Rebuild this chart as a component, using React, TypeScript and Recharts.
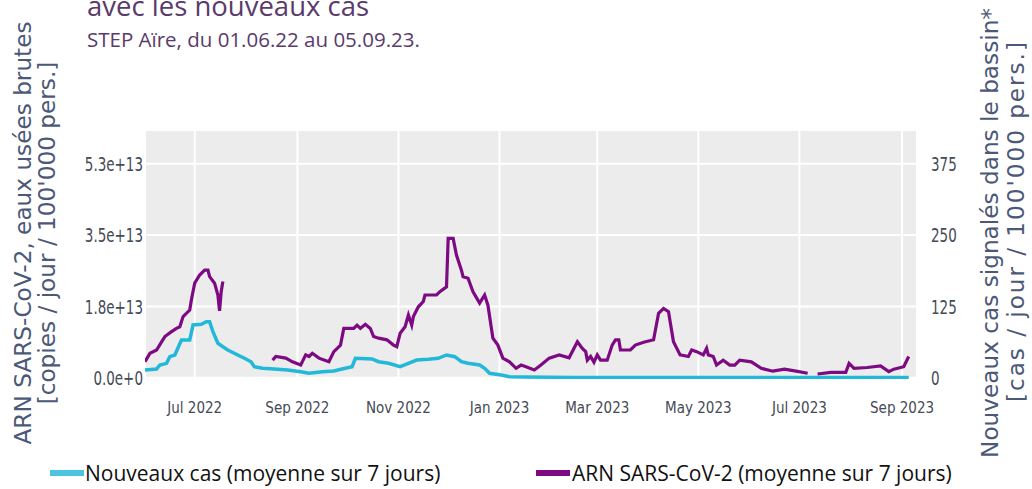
import { LineChart, Line, XAxis, YAxis, CartesianGrid } from "recharts";

const title = "avec les nouveaux cas";
const subtitle = "STEP Aïre, du 01.06.22 au 05.09.23.";
const leftTitle = ["ARN SARS-CoV-2, eaux usées brutes", "[copies / jour / 100'000 pers.]"];
const rightTitle = ["Nouveaux cas signalés dans le bassin*", "[cas / jour / 100'000 pers.]"];
const legendCas = "Nouveaux cas (moyenne sur 7 jours)";
const legendArn = "ARN SARS-CoV-2 (moyenne sur 7 jours)";

const xTickDates = [
  "2022-07-01", "2022-09-01", "2022-11-01", "2023-01-01",
  "2023-03-01", "2023-05-01", "2023-07-01", "2023-09-01",
];
const xTickLabels = [
  "Jul 2022", "Sep 2022", "Nov 2022", "Jan 2023",
  "Mar 2023", "May 2023", "Jul 2023", "Sep 2023",
];
const leftTicks = [0, 1.75e13, 3.5e13, 5.25e13];
const rightTicks = [0, 125, 250, 375];

// ARN SARS-CoV-2, copies / jour / 100'000 pers. (null = pas de mesure)
const arnDates = [
  "2022-06-01", "2022-06-04", "2022-06-08", "2022-06-11", "2022-06-13", "2022-06-17",
  "2022-06-20", "2022-06-22", "2022-06-24", "2022-06-28", "2022-06-29", "2022-07-01",
  "2022-07-04", "2022-07-07", "2022-07-09", "2022-07-10", "2022-07-13", "2022-07-15",
  "2022-07-16", "2022-07-17", "2022-07-18", "2022-07-19",
  "2022-08-17", "2022-08-19", "2022-08-25", "2022-08-29", "2022-09-03", "2022-09-06",
  "2022-09-08", "2022-09-10", "2022-09-14", "2022-09-20", "2022-09-23", "2022-09-27",
  "2022-09-29", "2022-10-05", "2022-10-07", "2022-10-09", "2022-10-12", "2022-10-15",
  "2022-10-17", "2022-10-20", "2022-10-25", "2022-10-29", "2022-10-31", "2022-11-02",
  "2022-11-05", "2022-11-07", "2022-11-09", "2022-11-10", "2022-11-13", "2022-11-16",
  "2022-11-17", "2022-11-24", "2022-11-26", "2022-11-30", "2022-12-01", "2022-12-04",
  "2022-12-06", "2022-12-09", "2022-12-10", "2022-12-13", "2022-12-16", "2022-12-20",
  "2022-12-23", "2022-12-25", "2022-12-28", "2022-12-31", "2023-01-03", "2023-01-07",
  "2023-01-11", "2023-01-14", "2023-01-17", "2023-01-22", "2023-01-26", "2023-01-31",
  "2023-02-06", "2023-02-12", "2023-02-17", "2023-02-20", "2023-02-22", "2023-02-23",
  "2023-02-25", "2023-02-27", "2023-03-01", "2023-03-03", "2023-03-07", "2023-03-10",
  "2023-03-12", "2023-03-14", "2023-03-15", "2023-03-21", "2023-03-24", "2023-03-29",
  "2023-04-04", "2023-04-07", "2023-04-10", "2023-04-13", "2023-04-16", "2023-04-20",
  "2023-04-25", "2023-04-27", "2023-04-30", "2023-05-04", "2023-05-06", "2023-05-07",
  "2023-05-10", "2023-05-12", "2023-05-16", "2023-05-20", "2023-05-23", "2023-05-26",
  "2023-06-02", "2023-06-08", "2023-06-15", "2023-06-22", "2023-06-29", "2023-07-06",
  "2023-07-07",
  "2023-07-12", "2023-07-20", "2023-07-29", "2023-07-31", "2023-08-03", "2023-08-11",
  "2023-08-19", "2023-08-24", "2023-08-27", "2023-09-02", "2023-09-05",
];
const arnValues = [
  3.9e12, 6.0e12, 6.8e12, 8.8e12, 1.01e13, 1.13e13,
  1.21e13, 1.25e13, 1.5e13, 1.66e13, 1.91e13, 2.32e13,
  2.52e13, 2.64e13, 2.64e13, 2.48e13, 2.32e13, 2.03e13,
  1.64e13, 2.11e13, 2.36e13, null,
  4.3e12, 5.2e12, 4.8e12, 3.9e12, 3.1e12, 5.6e12,
  5.2e12, 6.0e12, 4.8e12, 3.9e12, 6.4e12, 8.0e12,
  1.21e13, 1.21e13, 1.29e13, 1.21e13, 1.31e13, 1.21e13,
  1.01e13, 9.7e12, 9.3e12, 8.0e12, 7.6e12, 1.09e13,
  1.25e13, 1.54e13, 1.29e13, 1.5e13, 1.74e13, 1.87e13,
  2.03e13, 2.03e13, 2.11e13, 2.23e13, 3.42e13, 3.42e13,
  3.01e13, 2.64e13, 2.48e13, 2.44e13, 2.11e13, 1.83e13,
  2.03e13, 1.78e13, 9.7e12, 8.0e12, 4.8e12, 3.9e12,
  2.3e12, 3.1e12, 2.7e12, 1.9e12, 3.1e12, 4.8e12,
  5.6e12, 4.9e12, 8.8e12, 7.2e12, 6.4e12, 4.3e12,
  5.2e12, 3.8e12, 5.6e12, 4.3e12, 4.3e12, 8.0e12,
  9.3e12, 9.3e12, 6.8e12, 6.8e12, 8.0e12, 8.7e12,
  9.3e12, 1.58e13, 1.7e13, 1.62e13, 8.8e12, 5.6e12,
  5.2e12, 6.8e12, 6.4e12, 5.6e12, 7.2e12, 5.6e12,
  5.2e12, 3.1e12, 4.3e12, 3.1e12, 3.1e12, 4.3e12,
  3.9e12, 2.3e12, 1.6e12, 2.1e12, 1.6e12, 1.1e12,
  null,
  9e11, 1.3e12, 1.3e12, 3.5e12, 2.3e12, 2.5e12,
  2.9e12, 1.5e12, 2.1e12, 2.7e12, 5.2e12,
];

// Nouveaux cas / jour / 100'000 pers.
const casDates = [
  "2022-06-01", "2022-06-08", "2022-06-10", "2022-06-14", "2022-06-16", "2022-06-19",
  "2022-06-23", "2022-06-28", "2022-06-30", "2022-07-05", "2022-07-08", "2022-07-10",
  "2022-07-12", "2022-07-15", "2022-07-18", "2022-07-21", "2022-07-27", "2022-07-31",
  "2022-08-04", "2022-08-06", "2022-08-11", "2022-08-18", "2022-08-26", "2022-09-03",
  "2022-09-08", "2022-09-16", "2022-09-23", "2022-09-28", "2022-10-04", "2022-10-06",
  "2022-10-16", "2022-10-20", "2022-10-26", "2022-11-02", "2022-11-07", "2022-11-12",
  "2022-11-19", "2022-11-25", "2022-11-30", "2022-12-05", "2022-12-09", "2022-12-13",
  "2022-12-20", "2022-12-23", "2022-12-26", "2023-01-02", "2023-01-07", "2023-01-16",
  "2023-02-15", "2023-05-01", "2023-09-05",
];
const casValues = [
  13.5, 15.3, 22.3, 25.2, 36.8, 39.8,
  66.1, 66.1, 92.4, 93.6, 98.2, 98.2,
  80.6, 60.3, 54.3, 48.6, 39.8, 34,
  28, 19.3, 16.5, 15.3, 13.5, 10.5,
  7.7, 10.5, 11.7, 15.3, 19.3, 34,
  32.8, 28, 25.2, 19.3, 25.2, 31,
  32.3, 34, 39.8, 36.8, 28, 25.2,
  22.3, 16.5, 7.7, 4.7, 1.8, 1.2,
  0.5, 0.3, 0.3,
];

const arnData = arnDates.map((d, i) => ({ t: Date.parse(d), v: arnValues[i] }));
const casData = casDates.map((d, i) => ({ t: Date.parse(d), v: casValues[i] }));
const xTicks = xTickDates.map((d) => Date.parse(d));

const TICK_FONT = "'DejaVu Sans Condensed', 'DejaVu Sans', sans-serif";
const TEXT_FONT = "'Open Sans', 'Noto Sans', sans-serif";
const TITLE_FONT = "'DejaVu Sans', Verdana, sans-serif";
const CYAN = "#22b8d7";
const PURPLE = "#7d0a82";

function XTick({ x, y, payload }: any) {
  const i = xTicks.indexOf(payload.value);
  return (
    <text x={x} y={y + 29} textAnchor="middle" dominantBaseline="central"
      fill="#454a55" fontSize={15} fontFamily={TICK_FONT}>
      {xTickLabels[i]}
    </text>
  );
}

function LeftTick({ x, y, payload }: any) {
  return (
    <text transform={`translate(${x} ${y}) scale(1 1.35)`} textAnchor="end"
      dominantBaseline="central" fill="#454a55" fontSize={15} fontFamily={TICK_FONT}>
      {Number(payload.value).toExponential(1)}
    </text>
  );
}

function RightTick({ x, y, payload }: any) {
  return (
    <text transform={`translate(${x} ${y}) scale(1 1.35)`} textAnchor="start"
      dominantBaseline="central" fill="#454a55" fontSize={15} fontFamily={TICK_FONT}>
      {payload.value}
    </text>
  );
}

function Overlay() {
  const titleColor = "#5a3b6b";
  const axisColor = "#4b5878";
  return (
    <svg width={1032} height={489}
      style={{ position: "absolute", left: 0, top: 0, pointerEvents: "none" }}>
      <text x={87} y={16} fontSize={27.5} fontFamily={TEXT_FONT} fill={titleColor}>{title}</text>
      <text x={87} y={47} fontSize={20.5} fontFamily={TEXT_FONT} fill={titleColor}>{subtitle}</text>

      <text transform="translate(31 233) rotate(-90)" textAnchor="middle"
        fontSize={23.2} fontFamily={TITLE_FONT} fill={axisColor}>{leftTitle[0]}</text>
      <text transform="translate(55 233) rotate(-90)" textAnchor="middle"
        fontSize={23.2} fontFamily={TITLE_FONT} fill={axisColor}>{leftTitle[1]}</text>
      <text transform="translate(998 233) rotate(-90)" textAnchor="middle"
        fontSize={23.2} fontFamily={TITLE_FONT} fill={axisColor}>{rightTitle[0]}</text>
      <text transform="translate(1024 222) rotate(-90)" textAnchor="middle"
        textLength={360} lengthAdjust="spacing"
        fontSize={23.2} fontFamily={TITLE_FONT} fill={axisColor}>{rightTitle[1]}</text>

      <rect x={50} y={470} width={34} height={6} fill="#4cc3df" />
      <text x={85} y={473} dominantBaseline="central" fontSize={21} fontFamily={TEXT_FONT} fill="#111">{legendCas}</text>
      <rect x={536} y={470} width={34} height={6} fill={PURPLE} />
      <text x={572} y={473} dominantBaseline="central" fontSize={21} fontFamily={TEXT_FONT} fill="#111">{legendArn}</text>
    </svg>
  );
}

export default function App() {
  return (
    <div style={{ position: "absolute", left: 0, top: 0, width: 1032, height: 489, background: "#fff", overflow: "hidden" }}>
      <LineChart width={1032} height={489} margin={{ top: 130, right: 0, bottom: 80, left: 0 }}>
        <CartesianGrid yAxisId="left" fill="#ececec" stroke="#ffffff" strokeWidth={2} />
        <XAxis dataKey="t" type="number" domain={[Date.parse("2022-06-01"), Date.parse("2023-09-10")]}
          ticks={xTicks} allowDataOverflow height={30} axisLine={false} tickLine={false}
          tickSize={0} tickMargin={0} tick={<XTick />} interval={0} />
        <YAxis yAxisId="left" orientation="left" width={145} domain={[-3.19e11, 6.079e13]}
          ticks={leftTicks} allowDataOverflow axisLine={false} tickLine={false}
          tickSize={0} tickMargin={2} tick={<LeftTick />} interval={0} />
        <YAxis yAxisId="right" orientation="right" width={115} domain={[-2.28, 434.2]}
          ticks={rightTicks} allowDataOverflow axisLine={false} tickLine={false}
          tickSize={0} tickMargin={14} tick={<RightTick />} interval={0} />
        <Line yAxisId="right" data={casData} dataKey="v" type="linear" stroke={CYAN}
          strokeWidth={3.5} dot={false} activeDot={false} isAnimationActive={false} />
        <Line yAxisId="left" data={arnData} dataKey="v" type="linear" stroke={PURPLE}
          strokeWidth={3.2} dot={false} activeDot={false} connectNulls={false} isAnimationActive={false} />
      </LineChart>
      <Overlay />
    </div>
  );
}
